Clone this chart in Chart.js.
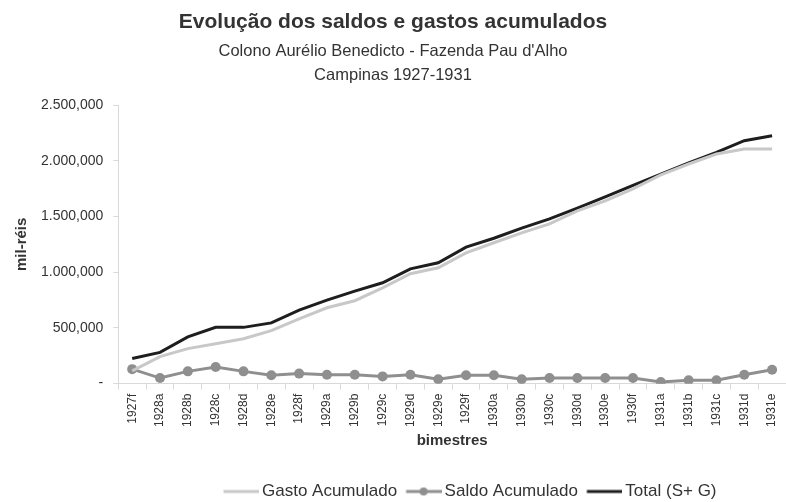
<!DOCTYPE html>
<html lang="pt">
<head>
<meta charset="UTF-8">
<title>Evolução dos saldos e gastos acumulados</title>
<script src="https://cdn.jsdelivr.net/npm/chart.js"></script>
<style>
  html, body { margin: 0; padding: 0; background: #fff; }
  #wrap { width: 786px; height: 502px; }
</style>
</head>
<body>
<div id="wrap"><canvas id="chart"></canvas></div>
<script>
const bimestres = ['1927f', '1928a', '1928b', '1928c', '1928d', '1928e', '1928f',
  '1929a', '1929b', '1929c', '1929d', '1929e', '1929f',
  '1930a', '1930b', '1930c', '1930d', '1930e', '1930f',
  '1931a', '1931b', '1931c', '1931d', '1931e'];

const gastoAcumulado = [115000, 242000, 314000, 358000, 403000, 475000, 582000,
  681000, 744000, 860000, 986000, 1040000, 1174000,
  1264000, 1353000, 1434000, 1550000, 1640000, 1747000,
  1873000, 1971000, 2061000, 2105000, 2105000];

const saldoAcumulado = [130000, 50000, 110000, 150000, 110000, 75000, 90000,
  80000, 80000, 65000, 80000, 40000, 75000,
  75000, 40000, 50000, 50000, 50000, 50000,
  15000, 30000, 30000, 80000, 125000];

const totalSG = [225000, 280000, 420000, 505000, 505000, 545000, 660000,
  750000, 830000, 905000, 1030000, 1085000, 1225000,
  1305000, 1395000, 1478000, 1575000, 1675000, 1780000,
  1880000, 1980000, 2075000, 2180000, 2225000];

const yTickLabels = ['-', '500,000', '1.000,000', '1.500,000', '2.000,000', '2.500,000'];

const FONT = "'Liberation Sans', Arial, sans-serif";
const TEXT = '#333333';
const AXIS = '#d9d9d9';

// legend symbols: a line (with a dot for the saldo series)
// the image is wider than the legend box so the line runs close to the text
function legendSymbol(color, width, dot) {
  const c = document.createElement('canvas');
  c.width = 41; c.height = 12;
  const g = c.getContext('2d');
  g.strokeStyle = color;
  g.lineWidth = width;
  g.beginPath();
  g.moveTo(5.5, 6); g.lineTo(41, 6);
  g.stroke();
  if (dot) {
    g.fillStyle = color;
    g.beginPath();
    g.arc(23, 6, 4, 0, Math.PI * 2);
    g.fill();
  }
  return c;
}

// move the legend box a bit, like the original
const legendShift = {
  id: 'legendShift',
  afterLayout(chart, args, opts) {
    const lg = chart.legend;
    if (!lg) return;
    lg.left += opts.dx || 0;
    lg.right += opts.dx || 0;
    lg.top += opts.dy || 0;
    lg.bottom += opts.dy || 0;
  }
};

const symbols = [
  legendSymbol('#c8c8c8', 3, false),
  legendSymbol('#8f8f8f', 3, true),
  legendSymbol('#1e1e1e', 3, false)
];

new Chart(document.getElementById('chart'), {
  type: 'line',
  data: {
    labels: bimestres,
    datasets: [
      {
        label: 'Gasto Acumulado',
        data: gastoAcumulado,
        borderColor: '#c8c8c8',
        backgroundColor: '#c8c8c8',
        borderWidth: 3,
        pointRadius: 0,
        tension: 0
      },
      {
        label: 'Saldo Acumulado',
        data: saldoAcumulado,
        borderColor: '#8f8f8f',
        backgroundColor: '#8f8f8f',
        borderWidth: 3,
        pointRadius: 5,
        pointBorderWidth: 0,
        tension: 0
      },
      {
        label: 'Total (S+ G)',
        data: totalSG,
        borderColor: '#1e1e1e',
        backgroundColor: '#1e1e1e',
        borderWidth: 3,
        pointRadius: 0,
        tension: 0
      }
    ]
  },
  options: {
    responsive: true,
    maintainAspectRatio: false,
    animation: false,
    layout: { autoPadding: false, padding: { left: 0, right: 0, top: 8, bottom: 0 } },
    plugins: {
      title: {
        display: true,
        text: 'Evolução dos saldos e gastos acumulados',
        color: TEXT,
        font: { family: FONT, size: 21, weight: 'bold' },
        padding: { top: 2, bottom: 4 }
      },
      subtitle: {
        display: true,
        text: ['Colono Aurélio Benedicto - Fazenda Pau d\'Alho', 'Campinas 1927-1931'],
        color: TEXT,
        font: { family: FONT, size: 16.5, lineHeight: 1.45 },
        padding: { top: 0, bottom: 18 }
      },
      legend: {
        display: true,
        position: 'bottom',
        labels: {
          color: TEXT,
          font: { family: FONT, size: 17 },
          usePointStyle: true,
          pointStyleWidth: 30,
          padding: 9,
          generateLabels(chart) {
            const items = Chart.defaults.plugins.legend.labels.generateLabels(chart);
            items.forEach((it, i) => { it.pointStyle = symbols[i]; });
            return items;
          }
        }
      },
      legendShift: { dx: 77, dy: 8 },
      tooltip: { enabled: false }
    },
    scales: {
      x: {
        offset: true,
        // let the last category run up to the right edge
        afterFit(scale) { scale.paddingRight = 0; },
        grid: {
          offset: true,
          drawOnChartArea: false,
          color: AXIS,
          tickLength: 6
        },
        border: { color: AXIS },
        ticks: {
          color: TEXT,
          font: { family: FONT, size: 12 },
          minRotation: 90,
          maxRotation: 90,
          autoSkip: false,
          padding: 4
        },
        title: {
          display: true,
          text: 'bimestres',
          color: TEXT,
          font: { family: FONT, size: 15, weight: 'bold' },
          padding: { top: 1, bottom: 16 }
        }
      },
      y: {
        min: 0,
        max: 2500000,
        grid: {
          drawOnChartArea: false,
          color: AXIS,
          tickLength: 5
        },
        border: { color: AXIS },
        ticks: {
          stepSize: 500000,
          color: TEXT,
          font: { family: FONT, size: 14 },
          padding: 10,
          callback: (v, i) => yTickLabels[i]
        },
        title: {
          display: true,
          text: 'mil-réis',
          color: TEXT,
          font: { family: FONT, size: 15, weight: 'bold' },
          padding: { top: 13, bottom: 0 }
        }
      }
    }
  },
  plugins: [legendShift]
});
</script>
</body>
</html>
